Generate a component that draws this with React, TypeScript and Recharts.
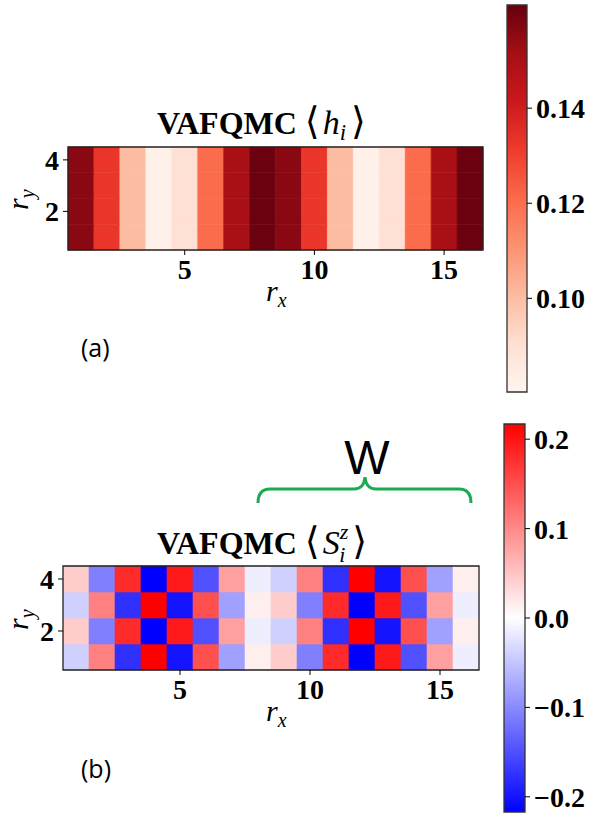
import React from 'react';
import { ComposedChart, XAxis, YAxis, Scatter, ReferenceArea, Line } from 'recharts';

// ---------- data ----------
const rxValues = [1, 2, 3, 4, 5, 6, 7, 8, 9, 10, 11, 12, 13, 14, 15, 16];
const ryValues = [1, 2, 3, 4];
const xTicks = [5, 10, 15];
const yTicks = [2, 4];

// <h_i> per column (same for every r_y row)
const hByColumn = [0.156, 0.1325, 0.1005, 0.0825, 0.0898, 0.1206, 0.1505, 0.161,
  0.156, 0.1325, 0.1005, 0.0825, 0.0898, 0.1206, 0.1505, 0.161];

// <S_i^z> rows, r_y = 1..4
const sRow1 = [-0.04, 0.108, -0.176, 0.217, -0.2, 0.149, -0.081, 0.0145, 0.043, -0.108, 0.181, -0.217, 0.195, -0.149, 0.081, -0.0145];
const sRow2 = [0.043, -0.108, 0.181, -0.217, 0.195, -0.149, 0.081, -0.0145, -0.04, 0.108, -0.176, 0.217, -0.2, 0.149, -0.081, 0.0145];
const sRow3 = [-0.04, 0.108, -0.176, 0.217, -0.2, 0.149, -0.081, 0.0145, 0.043, -0.108, 0.181, -0.217, 0.195, -0.149, 0.081, -0.0145];
const sRow4 = [0.043, -0.108, 0.181, -0.217, 0.195, -0.149, 0.081, -0.0145, -0.04, 0.108, -0.176, 0.217, -0.2, 0.149, -0.081, 0.0145];
const sRows = [sRow1, sRow2, sRow3, sRow4];

const hMin = 0.0803;
const hMax = 0.1617;
const hTicks = [0.1, 0.12, 0.14];
const sMin = -0.217;
const sMax = 0.217;
const sTicks = [-0.2, -0.1, 0, 0.1, 0.2];

// ---------- colormaps ----------
const REDS = ['#fff5f0', '#fee0d2', '#fcbba1', '#fc9272', '#fb6a4a', '#ef3b2c', '#cb181d', '#a50f15', '#67000d'];
const hex = (h: string) => [1, 3, 5].map((i) => parseInt(h.slice(i, i + 2), 16));
const toHex = (c: number[]) => '#' + c.map((v) => Math.round(Math.max(0, Math.min(255, v))).toString(16).padStart(2, '0')).join('');
function reds(v: number) {
  let t = (v - hMin) / (hMax - hMin);
  t = Math.max(0, Math.min(1, t));
  const p = t * (REDS.length - 1);
  const i = Math.min(REDS.length - 2, Math.floor(p));
  const f = p - i;
  const a = hex(REDS[i]);
  const b = hex(REDS[i + 1]);
  return toHex(a.map((x, k) => x + (b[k] - x) * f));
}
function bwr(v: number) {
  let t = (v - sMin) / (sMax - sMin);
  t = Math.max(0, Math.min(1, t));
  if (t < 0.5) {
    const g = 2 * t * 255;
    return toHex([g, g, 255]);
  }
  const g = 2 * (1 - t) * 255;
  return toHex([255, g, g]);
}

const hCells = ryValues.flatMap((y) => rxValues.map((x, i) => ({ x, y, v: hByColumn[i] })));
const sCells = ryValues.flatMap((y, j) => rxValues.map((x, i) => ({ x, y, v: sRows[j][i] })));

const SERIF = "'Liberation Serif', 'Times New Roman', 'DejaVu Serif', serif";
const tickStyle = { fontFamily: SERIF, fontWeight: 'bold' as const, fontSize: 28, fill: '#000' };

function Heatmap({ cells, color, width, height, margin, yAxisWidth }: any) {
  return (
    <ComposedChart width={width} height={height} margin={margin} data={cells}>
      <XAxis type="number" dataKey="x" domain={[0.5, 16.5]} ticks={xTicks} allowDataOverflow
        height={70} axisLine={false} tickLine={{ stroke: '#000' }} tickSize={5} tickMargin={4}
        tick={tickStyle} interval={0} />
      <YAxis type="number" dataKey="y" domain={[0.5, 4.5]} ticks={yTicks} allowDataOverflow
        width={yAxisWidth} axisLine={false} tickLine={{ stroke: '#000' }} tickSize={5} tickMargin={4}
        tick={tickStyle} interval={0} />
      <Scatter data={cells} dataKey="y" fill="none" shape={() => <g />} isAnimationActive={false} legendType="none" />
      {cells.map((c: any, k: number) => (
        <ReferenceArea key={k} x1={c.x - 0.5} x2={c.x + 0.5} y1={c.y - 0.5} y2={c.y + 0.5}
          fill={color(c.v)} fillOpacity={1} stroke={color(c.v)} strokeWidth={0.6} ifOverflow="visible" />
      ))}
      <ReferenceArea x1={0.5} x2={16.5} y1={0.5} y2={4.5} fill="none" stroke="#222" strokeWidth={1.3} ifOverflow="visible" />
    </ComposedChart>
  );
}

function Colorbar({ id, stops, min, max, ticks, fmt, width, height, margin }: any) {
  const data = [{ k: 0, v: min }, { k: 1, v: max }];
  return (
    <ComposedChart width={width} height={height} margin={margin} data={data}>
      <defs>
        <linearGradient id={id} x1="0" y1="1" x2="0" y2="0">
          {stops.map((s: string, i: number) => (
            <stop key={i} offset={i / (stops.length - 1)} stopColor={s} />
          ))}
        </linearGradient>
      </defs>
      <XAxis dataKey="k" hide />
      <YAxis type="number" orientation="right" domain={[min, max]} ticks={ticks} allowDataOverflow
        width={80} axisLine={false} tickLine={{ stroke: '#000' }} tickSize={5} tickMargin={4}
        tick={{ ...tickStyle, textAnchor: 'start' }} tickFormatter={fmt} interval={0} />
      <Line dataKey="v" stroke="none" dot={false} isAnimationActive={false} legendType="none" />
      <ReferenceArea y1={min} y2={max} fill={`url(#${id})`} fillOpacity={1} stroke="#333" strokeWidth={1.3} ifOverflow="visible" />
    </ComposedChart>
  );
}

const abs = (left: number, top: number): React.CSSProperties => ({ position: 'absolute', left, top });

export default function App() {
  return (
    <div style={{ position: 'absolute', left: 0, top: 0, width: 613, height: 815, background: '#fff', overflow: 'hidden' }}>
      <div style={abs(0, 0)}>
        <Heatmap cells={hCells} color={reds} width={500} height={320}
          margin={{ top: 147, right: 17, bottom: 0, left: 0 }} yAxisWidth={68} />
      </div>
      <div style={abs(0, 400)}>
        <Heatmap cells={sCells} color={bwr} width={500} height={340}
          margin={{ top: 166, right: 21, bottom: 0, left: 0 }} yAxisWidth={63} />
      </div>
      <div style={abs(480, 0)}>
        <Colorbar id="gradReds" stops={REDS} min={hMin} max={hMax} ticks={hTicks}
          fmt={(v: number) => v.toFixed(2)} width={133} height={400}
          margin={{ top: 5, right: 6, bottom: 8, left: 27 }} />
      </div>
      <div style={abs(480, 400)}>
        <Colorbar id="gradBwr" stops={['#0000ff', '#ffffff', '#ff0000']} min={sMin} max={sMax} ticks={sTicks}
          fmt={(v: number) => (v < 0 ? '\u2212' : '') + Math.abs(v).toFixed(1)} width={133} height={415}
          margin={{ top: 24, right: 8, bottom: 3, left: 24 }} />
      </div>
      <svg width={613} height={815} style={{ position: 'absolute', left: 0, top: 0, pointerEvents: 'none' }}>
        {/* titles */}
        <text x={157} y={134} fontFamily={SERIF} fontSize={32} fill="#000">
          <tspan fontWeight="bold">VAFQMC </tspan>
          <tspan fontSize={38}>{'\u27E8'}</tspan>
          <tspan fontStyle="italic" fontSize={34} dx={3}>h</tspan>
          <tspan fontStyle="italic" fontSize={23} dy={6}>i</tspan>
          <tspan fontSize={38} dy={-6} dx={5}>{'\u27E9'}</tspan>
        </text>
        <text x={157} y={554} fontFamily={SERIF} fontSize={32} fill="#000">
          <tspan fontWeight="bold">VAFQMC </tspan>
          <tspan fontSize={38}>{'\u27E8'}</tspan>
          <tspan fontStyle="italic" fontSize={34} dx={3}>S</tspan>
          <tspan fontStyle="italic" fontSize={22} dy={-15}>z</tspan>
          <tspan fontStyle="italic" fontSize={22} dx={-9} dy={23}>i</tspan>
          <tspan fontSize={38} dy={-8} dx={7}>{'\u27E9'}</tspan>
        </text>
        {/* axis labels */}
        <text x={266} y={301} fontFamily={SERIF} fontSize={30} fontStyle="italic" fill="#000">
          <tspan>r</tspan><tspan fontSize={20} dy={6}>x</tspan>
        </text>
        <text x={266} y={721} fontFamily={SERIF} fontSize={30} fontStyle="italic" fill="#000">
          <tspan>r</tspan><tspan fontSize={20} dy={6}>x</tspan>
        </text>
        <text transform="translate(28,210) rotate(-90)" fontFamily={SERIF} fontSize={30} fontStyle="italic" fill="#000">
          <tspan>r</tspan><tspan fontSize={20} dy={6}>y</tspan>
        </text>
        <text transform="translate(28,630) rotate(-90)" fontFamily={SERIF} fontSize={30} fontStyle="italic" fill="#000">
          <tspan>r</tspan><tspan fontSize={20} dy={6}>y</tspan>
        </text>
        {/* panel labels */}
        <text x={81} y={357} fontFamily="'Open Sans', 'Liberation Sans', sans-serif" fontSize={25} fill="#000">(a)</text>
        <text x={81} y={778} fontFamily="'Open Sans', 'Liberation Sans', sans-serif" fontSize={25} fill="#000">(b)</text>
        {/* W brace */}
        <text x={367} y={474} textAnchor="middle" fontFamily="'Liberation Sans', sans-serif" fontSize={48} fill="#000">W</text>
        <path d="M258,503 Q258,489 270,489 L354,489 Q364,489 365,477 Q366,489 376,489 L459,489 Q471,489 471,503"
          fill="none" stroke="#1aab4f" strokeWidth={3} />
      </svg>
    </div>
  );
}
